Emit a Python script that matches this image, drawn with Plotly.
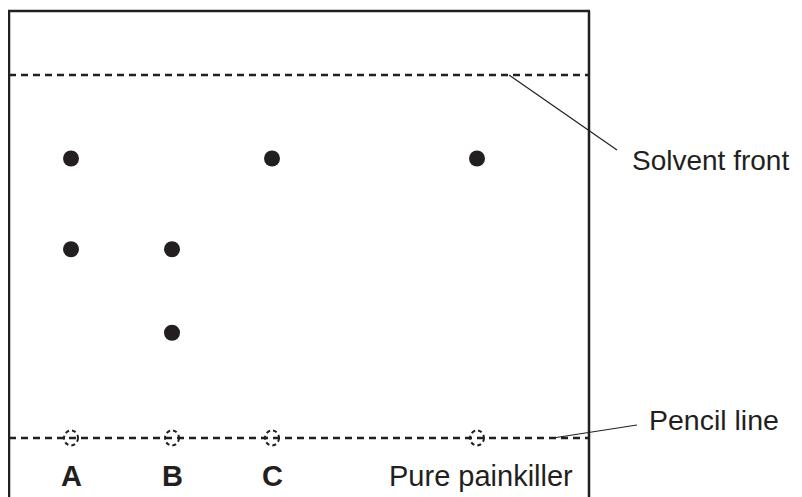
import plotly.graph_objects as go

# ---- data ----
lanes = ["A", "B", "C", "Pure painkiller"]
spot_lane = ["A", "A", "B", "B", "C", "Pure painkiller"]
spot_rf = [0.77, 0.52, 0.52, 0.29, 0.77, 0.77]
line_labels = ["Solvent front", "Pencil line"]

# ---- layout constants (pixel x positions, Rf y scale) ----
lane_x = {"A": 71, "B": 172, "C": 272, "Pure painkiller": 477}
lane_label_x = {"A": 71, "B": 172, "C": 272, "Pure painkiller": 481}
INK = "#231f20"
FONT = "Liberation Sans, Arial, sans-serif"
PX = 1 / 363.0  # one pixel in Rf units
OFF = 8  # page body margin

fig = go.Figure()

fig.add_trace(go.Scatter(
    x=[lane_x[l] for l in spot_lane], y=spot_rf, mode="markers",
    marker=dict(size=16, color=INK, line=dict(width=0)),
    hoverinfo="skip", showlegend=False))

shapes = []
frame_l, frame_r = 9, 589
frame_top = 1 + 64 * PX
# frame (open at bottom)
shapes.append(dict(type="line", xref="x", yref="y", x0=frame_l, x1=frame_l, y0=frame_top, y1=-0.3,
                   line=dict(color=INK, width=2.5)))
shapes.append(dict(type="line", xref="x", yref="y", x0=frame_r, x1=frame_r, y0=frame_top, y1=-0.3,
                   line=dict(color=INK, width=2.5)))
shapes.append(dict(type="line", xref="x", yref="y", x0=frame_l - 1, x1=frame_r + 1, y0=frame_top, y1=frame_top,
                   line=dict(color=INK, width=2.5)))
# solvent front & pencil line
for yv in (1.0, 0.0):
    shapes.append(dict(type="line", xref="x", yref="y", x0=frame_l, x1=frame_r, y0=yv, y1=yv,
                       line=dict(color=INK, width=2.5, dash="7px,5px")))
# origin circles (dashed)
for l in lanes:
    cx = lane_x[l]
    shapes.append(dict(type="circle", xref="x", yref="y", x0=cx - 7, x1=cx + 7,
                       y0=-7.5 * PX, y1=7.5 * PX,
                       line=dict(color=INK, width=2, dash="4px,3px")))
# leader lines
shapes.append(dict(type="line", xref="x", yref="y", x0=509, x1=617, y0=1.0, y1=1 - 75 * PX,
                   line=dict(color=INK, width=1.2)))
shapes.append(dict(type="line", xref="x", yref="y", x0=553, x1=637, y0=0.0, y1=13 * PX,
                   line=dict(color=INK, width=1.2)))

annotations = []
annotations.append(dict(x=630, y=(438 - 160) * PX, xref="x", yref="y", text=line_labels[0],
                        showarrow=False, xanchor="left", yanchor="middle",
                        font=dict(family=FONT, size=28, color=INK)))
annotations.append(dict(x=647, y=(438 - 420) * PX, xref="x", yref="y", text=line_labels[1],
                        showarrow=False, xanchor="left", yanchor="middle",
                        font=dict(family=FONT, size=28.5, color=INK)))
for l in lanes:
    txt = l if l == "Pure painkiller" else "<b>" + l + "</b>"
    annotations.append(dict(x=lane_label_x[l], y=(438 - 476) * PX, xref="x", yref="y", text=txt,
                            showarrow=False, xanchor="center", yanchor="middle",
                            font=dict(family=FONT, size=29, color=INK)))

fig.update_layout(
    width=802 - OFF, height=497 - OFF, margin=dict(l=0, r=0, t=0, b=0),
    paper_bgcolor="white", plot_bgcolor="white",
    xaxis=dict(range=[OFF, 802], visible=False, fixedrange=True),
    yaxis=dict(range=[-59 * PX, (438 - OFF) * PX], visible=False, fixedrange=True),
    shapes=shapes, annotations=annotations, showlegend=False)

fig.write_html("out.html")
